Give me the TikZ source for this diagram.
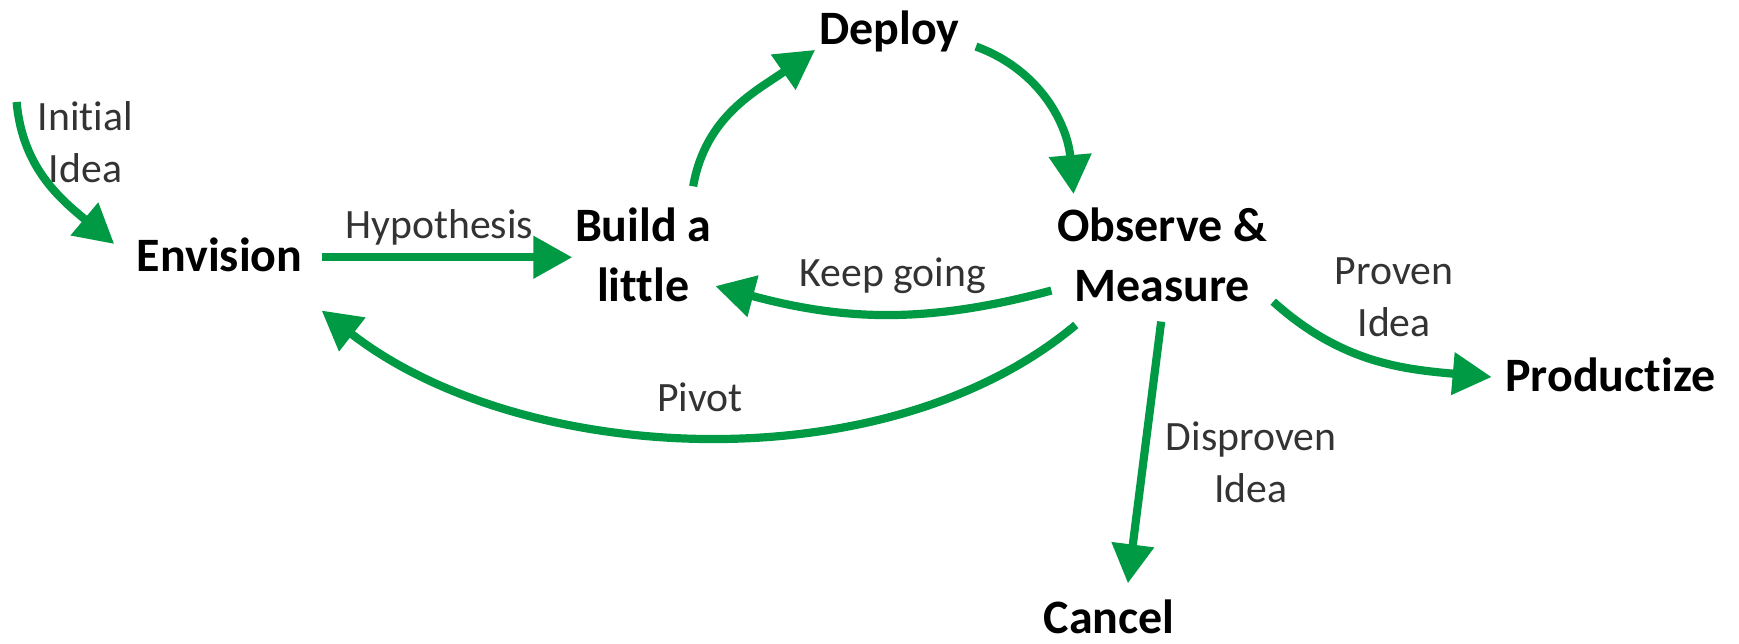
\documentclass[tikz,border=0pt]{standalone}
\usepackage{fontspec}
\setmainfont{Carlito}[Ligatures=NoCommon]
\usetikzlibrary{calc,arrows.meta}

\definecolor{leangreen}{RGB}{0,154,68}

\begin{document}
\begin{tikzpicture}[x=0.01cm, y=0.01cm,
  stage/.style={font=\fontsize{12.3}{15.4}\selectfont\bfseries, align=center, inner sep=0pt},
  lbl/.style={font=\fontsize{10.7}{13.4}\selectfont, text=black!80, align=center, inner sep=0pt},
  flow/.style={leangreen, line width=2.1pt, -{Triangle[length=10pt,width=10.5pt]}}]

  % Frame
  \useasboundingbox (0,0) rectangle (1568,580);

  % Stages
  \node[stage] (env) at (198,350) {Envision};
  \node[stage] (build) at (580,350) {Build a\\little};
  \node[stage] (deploy) at (802,552) {Deploy};
  \node[stage] (obs) at (1048,350) {Observe \&\\Measure};
  \node[stage] (prod) at (1452,242) {Productize};
  \node[stage] (cancel) at (1000,24) {Cancel};

  % Start of the first arrow
  \coordinate (init) at (15,488);

  % Arrow labels
  \node[lbl] (initlbl) at (77,452) {Initial\\Idea};
  \node[lbl] (hyplbl) at (396,375) {Hypothesis};
  \node[lbl] (keeplbl) at (805,331) {Keep going};
  \node[lbl] (pivotlbl) at (631,222) {Pivot};
  \node[lbl] (provenlbl) at (1257,312) {Proven\\Idea};
  \node[lbl] (disprovenlbl) at (1128,163) {Disproven\\Idea};

  % Arrows
  \draw[flow] (init) to[out=-85,in=140] ($(env)+(-95,10)$);
  \draw[flow] ($(env)+(92,-2)$) -- ($(build)+(-64,-2)$);
  \draw[flow] ($(build)+(45,62)$) to[out=80,in=215] ($(deploy)+(-67,-17)$);
  \draw[flow] ($(deploy)+(78,-14)$) to[out=-20,in=95] ($(obs)+(-80,55)$);
  \draw[flow] ($(obs)+(-100,-32)$) to[out=195,in=-15] ($(build)+(65,-28)$);
  \draw[flow] ($(obs)+(-78,-63)$) to[out=220,in=-38,looseness=0.85] ($(env)+(92,-50)$);
  \draw[flow] ($(obs)+(-1,-60)$) -- ($(cancel)+(17,30)$);
  \draw[flow] ($(obs)+(100,-42)$) to[out=-42,in=175] ($(prod)+(-107,-2)$);

\end{tikzpicture}
\end{document}
